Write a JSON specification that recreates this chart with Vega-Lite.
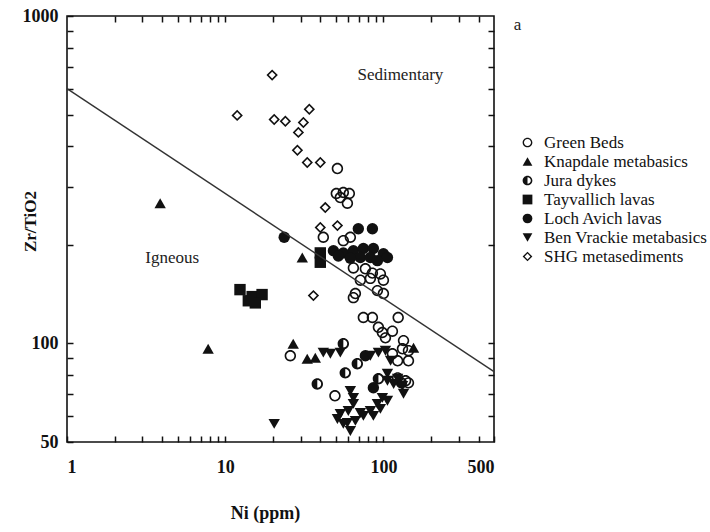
{
  "$schema": "https://vega.github.io/schema/vega-lite/v6.json",
  "autosize": {"type": "none"},
  "padding": {"left": 67, "top": 16, "right": 216, "bottom": 90},
  "width": 427,
  "height": 426,
  "background": "white",
  "config": {
    "view": {"stroke": "#111", "strokeWidth": 1.6},
    "font": "Liberation Serif"
  },
  "datasets": {
    "pts": [
      {"Ni": 19.8, "Zr": 660, "Group": "SHG metasediments"},
      {"Ni": 11.9, "Zr": 497, "Group": "SHG metasediments"},
      {"Ni": 20.4, "Zr": 483, "Group": "SHG metasediments"},
      {"Ni": 24.0, "Zr": 477, "Group": "SHG metasediments"},
      {"Ni": 34.0, "Zr": 519, "Group": "SHG metasediments"},
      {"Ni": 31.2, "Zr": 473, "Group": "SHG metasediments"},
      {"Ni": 29.0, "Zr": 441, "Group": "SHG metasediments"},
      {"Ni": 28.6, "Zr": 389, "Group": "SHG metasediments"},
      {"Ni": 33.0, "Zr": 357, "Group": "SHG metasediments"},
      {"Ni": 39.9, "Zr": 357, "Group": "SHG metasediments"},
      {"Ni": 42.9, "Zr": 260, "Group": "SHG metasediments"},
      {"Ni": 39.9, "Zr": 226, "Group": "SHG metasediments"},
      {"Ni": 51.2, "Zr": 229, "Group": "SHG metasediments"},
      {"Ni": 36.1, "Zr": 140, "Group": "SHG metasediments"},

      {"Ni": 51.2, "Zr": 342, "Group": "Green Beds"},
      {"Ni": 50.4, "Zr": 287, "Group": "Green Beds"},
      {"Ni": 55.8, "Zr": 289, "Group": "Green Beds"},
      {"Ni": 60.9, "Zr": 287, "Group": "Green Beds"},
      {"Ni": 59.2, "Zr": 268, "Group": "Green Beds"},
      {"Ni": 53.4, "Zr": 279, "Group": "Green Beds"},
      {"Ni": 41.7, "Zr": 211, "Group": "Green Beds"},
      {"Ni": 55.8, "Zr": 206, "Group": "Green Beds"},
      {"Ni": 61.8, "Zr": 211, "Group": "Green Beds"},
      {"Ni": 64.6, "Zr": 170, "Group": "Green Beds"},
      {"Ni": 76.9, "Zr": 169, "Group": "Green Beds"},
      {"Ni": 85.2, "Zr": 164, "Group": "Green Beds"},
      {"Ni": 71.5, "Zr": 156, "Group": "Green Beds"},
      {"Ni": 82.7, "Zr": 158, "Group": "Green Beds"},
      {"Ni": 95.7, "Zr": 163, "Group": "Green Beds"},
      {"Ni": 100, "Zr": 156, "Group": "Green Beds"},
      {"Ni": 66.5, "Zr": 142, "Group": "Green Beds"},
      {"Ni": 91.6, "Zr": 145, "Group": "Green Beds"},
      {"Ni": 100, "Zr": 142, "Group": "Green Beds"},
      {"Ni": 64.6, "Zr": 138, "Group": "Green Beds"},
      {"Ni": 74.7, "Zr": 120, "Group": "Green Beds"},
      {"Ni": 85.2, "Zr": 120, "Group": "Green Beds"},
      {"Ni": 124, "Zr": 120, "Group": "Green Beds"},
      {"Ni": 93, "Zr": 112, "Group": "Green Beds"},
      {"Ni": 98.5, "Zr": 108, "Group": "Green Beds"},
      {"Ni": 114, "Zr": 109, "Group": "Green Beds"},
      {"Ni": 103, "Zr": 104, "Group": "Green Beds"},
      {"Ni": 134, "Zr": 102, "Group": "Green Beds"},
      {"Ni": 132, "Zr": 96.3, "Group": "Green Beds"},
      {"Ni": 144, "Zr": 95, "Group": "Green Beds"},
      {"Ni": 114, "Zr": 93, "Group": "Green Beds"},
      {"Ni": 123, "Zr": 88.5, "Group": "Green Beds"},
      {"Ni": 144, "Zr": 88.5, "Group": "Green Beds"},
      {"Ni": 123, "Zr": 78.5, "Group": "Green Beds"},
      {"Ni": 138, "Zr": 76.9, "Group": "Green Beds"},
      {"Ni": 144, "Zr": 75.8, "Group": "Green Beds"},
      {"Ni": 49.4, "Zr": 69.2, "Group": "Green Beds"},
      {"Ni": 25.8, "Zr": 91.7, "Group": "Green Beds"},

      {"Ni": 23.6, "Zr": 211, "Group": "Loch Avich lavas"},
      {"Ni": 69.4, "Zr": 224, "Group": "Loch Avich lavas"},
      {"Ni": 85.2, "Zr": 224, "Group": "Loch Avich lavas"},
      {"Ni": 48.3, "Zr": 192, "Group": "Loch Avich lavas"},
      {"Ni": 55.8, "Zr": 189, "Group": "Loch Avich lavas"},
      {"Ni": 64.6, "Zr": 192, "Group": "Loch Avich lavas"},
      {"Ni": 74.7, "Zr": 195, "Group": "Loch Avich lavas"},
      {"Ni": 86.4, "Zr": 195, "Group": "Loch Avich lavas"},
      {"Ni": 100, "Zr": 188, "Group": "Loch Avich lavas"},
      {"Ni": 106, "Zr": 183, "Group": "Loch Avich lavas"},
      {"Ni": 71.5, "Zr": 183, "Group": "Loch Avich lavas"},
      {"Ni": 61.8, "Zr": 182, "Group": "Loch Avich lavas"},
      {"Ni": 82.7, "Zr": 183, "Group": "Loch Avich lavas"},
      {"Ni": 91.6, "Zr": 179, "Group": "Loch Avich lavas"},
      {"Ni": 51.9, "Zr": 185, "Group": "Loch Avich lavas"},
      {"Ni": 86.4, "Zr": 73.2, "Group": "Loch Avich lavas"},
      {"Ni": 76.9, "Zr": 91.7, "Group": "Loch Avich lavas"},

      {"Ni": 12.4, "Zr": 146, "Group": "Tayvallich lavas"},
      {"Ni": 14.8, "Zr": 139, "Group": "Tayvallich lavas"},
      {"Ni": 17.1, "Zr": 141, "Group": "Tayvallich lavas"},
      {"Ni": 15.5, "Zr": 133, "Group": "Tayvallich lavas"},
      {"Ni": 14.0, "Zr": 135, "Group": "Tayvallich lavas"},
      {"Ni": 39.9, "Zr": 189, "Group": "Tayvallich lavas"},
      {"Ni": 39.9, "Zr": 177, "Group": "Tayvallich lavas"},

      {"Ni": 3.88, "Zr": 268, "Group": "Knapdale metabasics"},
      {"Ni": 7.8, "Zr": 96.3, "Group": "Knapdale metabasics"},
      {"Ni": 30.7, "Zr": 183, "Group": "Knapdale metabasics"},
      {"Ni": 26.9, "Zr": 99.8, "Group": "Knapdale metabasics"},
      {"Ni": 33.0, "Zr": 89.8, "Group": "Knapdale metabasics"},
      {"Ni": 37.1, "Zr": 90.4, "Group": "Knapdale metabasics"},
      {"Ni": 155, "Zr": 97, "Group": "Knapdale metabasics"},

      {"Ni": 38.2, "Zr": 75.2, "Group": "Jura dykes"},
      {"Ni": 55.8, "Zr": 99.8, "Group": "Jura dykes"},
      {"Ni": 57.4, "Zr": 81.3, "Group": "Jura dykes"},
      {"Ni": 68.4, "Zr": 86.7, "Group": "Jura dykes"},
      {"Ni": 93, "Zr": 78, "Group": "Jura dykes"},
      {"Ni": 130, "Zr": 75.8, "Group": "Jura dykes"},

      {"Ni": 20.4, "Zr": 56.8, "Group": "Ben Vrackie metabasics"},
      {"Ni": 41.7, "Zr": 93.7, "Group": "Ben Vrackie metabasics"},
      {"Ni": 46.2, "Zr": 93, "Group": "Ben Vrackie metabasics"},
      {"Ni": 53.4, "Zr": 93.7, "Group": "Ben Vrackie metabasics"},
      {"Ni": 82.7, "Zr": 91.7, "Group": "Ben Vrackie metabasics"},
      {"Ni": 93, "Zr": 93.7, "Group": "Ben Vrackie metabasics"},
      {"Ni": 103, "Zr": 95, "Group": "Ben Vrackie metabasics"},
      {"Ni": 111, "Zr": 88.5, "Group": "Ben Vrackie metabasics"},
      {"Ni": 123, "Zr": 78, "Group": "Ben Vrackie metabasics"},
      {"Ni": 132, "Zr": 74.2, "Group": "Ben Vrackie metabasics"},
      {"Ni": 134, "Zr": 70.2, "Group": "Ben Vrackie metabasics"},
      {"Ni": 106, "Zr": 80.8, "Group": "Ben Vrackie metabasics"},
      {"Ni": 106, "Zr": 76.9, "Group": "Ben Vrackie metabasics"},
      {"Ni": 91.6, "Zr": 65.4, "Group": "Ben Vrackie metabasics"},
      {"Ni": 98.5, "Zr": 68.2, "Group": "Ben Vrackie metabasics"},
      {"Ni": 82.7, "Zr": 62.2, "Group": "Ben Vrackie metabasics"},
      {"Ni": 71.5, "Zr": 61.3, "Group": "Ben Vrackie metabasics"},
      {"Ni": 64.6, "Zr": 68.2, "Group": "Ben Vrackie metabasics"},
      {"Ni": 64.6, "Zr": 65.4, "Group": "Ben Vrackie metabasics"},
      {"Ni": 61.8, "Zr": 71.6, "Group": "Ben Vrackie metabasics"},
      {"Ni": 53.4, "Zr": 60.9, "Group": "Ben Vrackie metabasics"},
      {"Ni": 51.2, "Zr": 58.8, "Group": "Ben Vrackie metabasics"},
      {"Ni": 59.2, "Zr": 57.2, "Group": "Ben Vrackie metabasics"},
      {"Ni": 61.8, "Zr": 54.0, "Group": "Ben Vrackie metabasics"},
      {"Ni": 55.8, "Zr": 56.8, "Group": "Ben Vrackie metabasics"},
      {"Ni": 74.7, "Zr": 60.1, "Group": "Ben Vrackie metabasics"},
      {"Ni": 86.4, "Zr": 60.1, "Group": "Ben Vrackie metabasics"},
      {"Ni": 95.7, "Zr": 63.1, "Group": "Ben Vrackie metabasics"},
      {"Ni": 106, "Zr": 66.8, "Group": "Ben Vrackie metabasics"},
      {"Ni": 116, "Zr": 75.2, "Group": "Ben Vrackie metabasics"},
      {"Ni": 66.5, "Zr": 58.0, "Group": "Ben Vrackie metabasics"},
      {"Ni": 60.0, "Zr": 62.2, "Group": "Ben Vrackie metabasics"}
    ],
    "line": [
      {"Ni": 1, "Zr": 600},
      {"Ni": 500, "Zr": 82}
    ],
    "notes": [
      {"Ni": 128, "Zr": 660, "label": "Sedimentary"},
      {"Ni": 4.62, "Zr": 182, "label": "Igneous"},
      {"Ni": 705, "Zr": 938, "label": "a"}
    ]
  },
  "layer": [
    {
      "data": {"name": "pts"},
      "mark": {"type": "point", "filled": true, "color": "#111", "size": 130, "opacity": 1, "strokeWidth": 0},
      "encoding": {
        "x": {
          "field": "Ni", "type": "quantitative",
          "scale": {"type": "log", "domain": [1, 500], "nice": false},
          "axis": {
            "orient": "bottom", "offset": -6,
            "values": [1,2,3,4,5,6,7,8,9,10,20,30,40,50,60,70,80,90,100,200,300,400,500],
            "tickSize": 6, "tickColor": "#111", "tickWidth": 1.5,
            "domain": false, "grid": false,
            "labelExpr": "datum.value == 1 || datum.value == 10 || datum.value == 100 || datum.value == 500 ? format(datum.value, 'd') : ''",
            "labelFont": "Liberation Serif", "labelFontWeight": "bold", "labelFontSize": 18, "labelColor": "#111",
            "labelPadding": 16,
            "title": "Ni (ppm)", "titleFont": "Liberation Serif", "titleFontWeight": "bold", "titleFontSize": 18, "titleColor": "#111",
            "titlePadding": 28, "titleX": 198
          }
        },
        "y": {
          "field": "Zr", "type": "quantitative",
          "scale": {"type": "log", "domain": [50, 1000], "nice": false},
          "axis": {
            "orient": "left", "offset": -6,
            "values": [50,60,70,80,90,100,200,300,400,500,600,700,800,900,1000],
            "tickSize": 6, "tickColor": "#111", "tickWidth": 1.5,
            "domain": false, "grid": false,
            "labelExpr": "datum.value == 50 || datum.value == 100 || datum.value == 1000 ? format(datum.value, 'd') : ''",
            "labelFont": "Liberation Serif", "labelFontWeight": "bold", "labelFontSize": 18, "labelColor": "#111",
            "labelPadding": 9,
            "title": "Zr/TiO2", "titleFont": "Liberation Serif", "titleFontWeight": "bold", "titleFontSize": 17, "titleColor": "#111",
            "titleX": -43, "titleY": 205, "titleAngle": -90, "titleAlign": "center", "titleBaseline": "middle"
          }
        },
        "shape": {
          "field": "Group", "type": "nominal",
          "scale": {
            "domain": ["Green Beds", "Knapdale metabasics", "Jura dykes", "Tayvallich lavas", "Loch Avich lavas", "Ben Vrackie metabasics", "SHG metasediments"],
            "range": [
              "M0,-1A1,1,0,1,1,0,1A1,1,0,1,1,0,-1ZM0,-0.72A0.72,0.72,0,1,0,0,0.72A0.72,0.72,0,1,0,0,-0.72Z",
              "triangle-up",
              "M0,-1A1,1,0,1,1,0,1A1,1,0,1,1,0,-1ZM0,-0.68A0.68,0.68,0,1,0,0,0.68A0.68,0.68,0,1,0,0,-0.68ZM0,-0.68L0,0.68A0.68,0.68,0,0,1,0,-0.68Z",
              "square",
              "circle",
              "triangle-down",
              "M0,-1L1,0L0,1L-1,0ZM0,-0.6L-0.6,0L0,0.6L0.6,0Z"
            ]
          },
          "legend": {
            "orient": "none", "legendX": 452, "legendY": 118,
            "title": null, "labelLimit": 300,
            "labelFont": "Liberation Serif", "labelFontSize": 17, "labelColor": "#111",
            "symbolSize": 95, "symbolFillColor": "#111", "symbolStrokeWidth": 0,
            "rowPadding": 1, "labelOffset": 8
          }
        }
      }
    },
    {
      "encoding": {
        "x": {
          "field": "Ni", "type": "quantitative",
          "scale": {"type": "log", "domain": [1, 500], "nice": false},
          "axis": {
            "orient": "top", "offset": -6,
            "values": [2,3,4,5,6,7,8,9,10,20,30,40,50,60,70,80,90,100,200,300,400],
            "tickSize": 6, "tickColor": "#111", "tickWidth": 1.5,
            "domain": false, "grid": false, "labels": false, "title": null
          }
        },
        "y": {
          "field": "Zr", "type": "quantitative",
          "scale": {"type": "log", "domain": [50, 1000], "nice": false},
          "axis": {
            "orient": "right", "offset": -6,
            "values": [60,70,80,90,100,200,300,400,500,600,700,800,900],
            "tickSize": 6, "tickColor": "#111", "tickWidth": 1.5,
            "domain": false, "grid": false, "labels": false, "title": null
          }
        }
      },
      "layer": [
        {
          "data": {"name": "line"},
          "mark": {"type": "line", "color": "#333", "strokeWidth": 1.4},
          "encoding": {}
        },
        {
          "data": {"name": "notes"},
          "mark": {"type": "text", "font": "Liberation Serif", "fontSize": 17, "color": "#222", "align": "center", "baseline": "middle"},
          "encoding": {"text": {"field": "label"}}
        }
      ]
    }
  ],
  "resolve": {"axis": {"x": "independent", "y": "independent"}}
}
